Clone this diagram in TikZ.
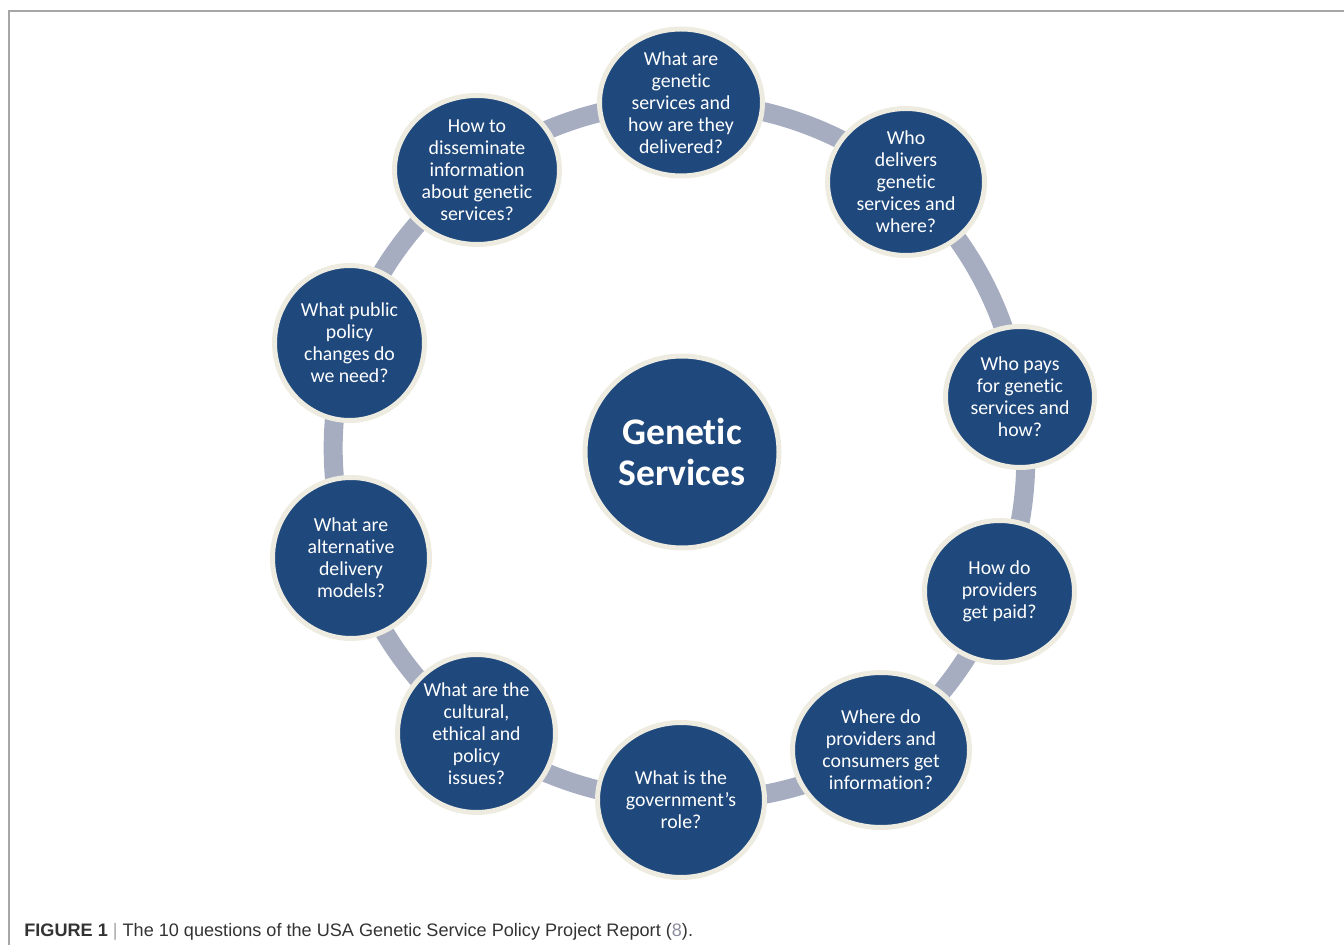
\documentclass[tikz,border=0pt]{standalone}
\usepackage{fontspec}
\setmainfont{Carlito}[Ligatures=NoCommon, Contextuals=NoAlternate]
\newfontfamily\captionfont{Liberation Sans}
\usetikzlibrary{shapes.geometric,backgrounds}

\definecolor{qfill}{HTML}{1F497D}
\definecolor{qrim}{HTML}{EEECE1}
\definecolor{ringcol}{HTML}{A6ADC1}
\definecolor{framecol}{HTML}{A6A6A6}
\definecolor{captext}{HTML}{333333}
\definecolor{capref}{HTML}{8C8C9C}

\tikzset{
  % one question bubble: ellipse with a cream rim
  qbubble/.style={ellipse, fill=qfill, draw=qrim, line width=2.5pt, inner sep=0pt},
  qtext/.style={text=white, align=center, inner sep=0pt,
    font=\fontsize{9.9}{11}\selectfont},
  hubtext/.style={text=white, align=center, inner sep=0pt,
    font=\fontsize{18.8}{20.5}\selectfont\bfseries},
  ringlink/.style={draw=ringcol, line width=9.5pt, looseness=0.875},
  framerule/.style={draw=framecol, line width=1pt},
}

\begin{document}
\begin{tikzpicture}[x=0.5pt, y=-0.5pt]
\useasboundingbox (0,0) rectangle (1344,945);

% figure frame
\draw[framerule] (9,945) -- (9,11) -- (1344,11);

% central hub
\node[qbubble, minimum width=97pt, minimum height=96pt] (hub) at (682,452) {};
\node[hubtext] (hubt) at (hub.center) {Genetic\\Services};

% the ten questions, clockwise from the top
\node[qbubble, minimum width=81.5pt, minimum height=73.5pt] (q1) at (681,102.5) {};
\node[qtext] (q1t) at (q1.center) {What are\\genetic\\services and\\how are they\\delivered?};

\node[qbubble, minimum width=78.5pt, minimum height=73.5pt] (q2) at (906,182) {};
\node[qtext] (q2t) at (q2.center) {Who\\delivers\\genetic\\services and\\where?};

\node[qbubble, minimum width=74.5pt, minimum height=70.5pt] (q3) at (1020,397) {};
\node[qtext] (q3t) at (q3.center) {Who pays\\for genetic\\services and\\how?};

\node[qbubble, minimum width=75pt, minimum height=71pt] (q4) at (999.5,591.5) {};
\node[qtext] (q4t) at (q4.center) {How do\\providers\\get paid?};

\node[qbubble, minimum width=88.5pt, minimum height=77.5pt] (q5) at (881,750) {};
\node[qtext] (q5t) at (q5.center) {Where do\\providers and\\consumers get\\information?};

\node[qbubble, minimum width=83.5pt, minimum height=77.5pt] (q6) at (681,800) {};
\node[qtext] (q6t) at (q6.center) {What is the\\government’s\\role?};

\node[qbubble, minimum width=79pt, minimum height=79pt] (q7) at (476.5,733.5) {};
\node[qtext] (q7t) at (q7.center) {What are the\\cultural,\\ethical and\\policy\\issues?};

\node[qbubble, minimum width=78.5pt, minimum height=80.5pt] (q8) at (351,558) {};
\node[qtext] (q8t) at (q8.center) {What are\\alternative\\delivery\\models?};

\node[qbubble, minimum width=75pt, minimum height=77.5pt] (q9) at (349.5,343) {};
\node[qtext] (q9t) at (q9.center) {What public\\policy\\changes do\\we need?};

\node[qbubble, minimum width=82.5pt, minimum height=74.5pt] (q10) at (477,170) {};
\node[qtext] (q10t) at (q10.center) {How to\\disseminate\\information\\about genetic\\services?};

% ring of arcs linking neighbouring questions, behind the bubbles
\begin{scope}[on background layer]
  \draw[ringlink] (q1.center)  to[bend left=20]   (q2.center);
  \draw[ringlink] (q2.center)  to[bend left=20.5] (q3.center);
  \draw[ringlink] (q3.center)  to[bend left=16.4] (q4.center);
  \draw[ringlink] (q4.center)  to[bend left=16.2] (q5.center);
  \draw[ringlink] (q5.center)  to[bend left=16.9] (q6.center);
  \draw[ringlink] (q6.center)  to[bend left=18]   (q7.center);
  \draw[ringlink] (q7.center)  to[bend left=18]   (q8.center);
  \draw[ringlink] (q8.center)  to[bend left=18]   (q9.center);
  \draw[ringlink] (q9.center)  to[bend left=18]   (q10.center);
  \draw[ringlink] (q10.center) to[bend left=18]   (q1.center);
\end{scope}

% caption
\node[anchor=base west, inner sep=0pt, text=captext,
      font=\captionfont\fontsize{9.05}{10}\selectfont] (caption) at (24,936)
  {\textbf{FIGURE 1} {\color{framecol}|} The 10 questions of the USA Genetic Service Policy Project Report ({\color{capref}8}).};
\end{tikzpicture}
\end{document}
